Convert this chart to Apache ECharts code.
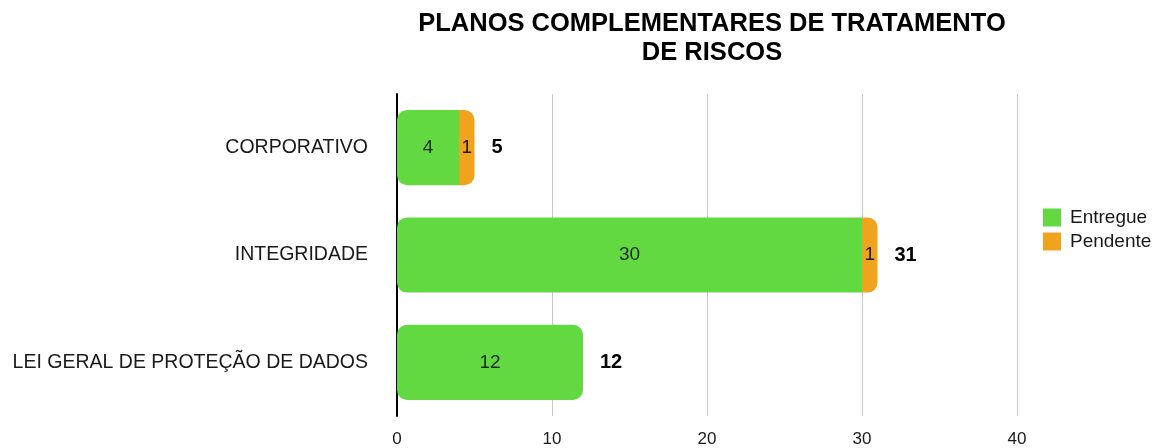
<!DOCTYPE html>
<html>
<head>
<meta charset="utf-8">
<script src="https://cdn.jsdelivr.net/npm/echarts@6/dist/echarts.min.js"></script>
<style>
  html, body { margin: 0; padding: 0; background: #fff; }
  #chart { width: 1159px; height: 448px; }
</style>
</head>
<body>
<div id="chart"></div>
<script>
var categorias = ["CORPORATIVO", "INTEGRIDADE", "LEI GERAL DE PROTEÇÃO DE DADOS"];
var entregue = [4, 30, 12];
var pendente = [1, 1, 0];
var totais = [5, 31, 12];
var xTicks = [0, 10, 20, 30, 40];

var fonte = '"Liberation Sans", Arial, sans-serif';
var verde = "#62d940";
var laranja = "#f0a31c";

var chart = echarts.init(document.getElementById("chart"));

// cantos arredondados: verde só fecha à direita quando não há pendente
var dadosEntregue = entregue.map(function (v, i) {
  return {
    value: v,
    itemStyle: { borderRadius: pendente[i] > 0 ? [10, 0, 0, 10] : 10 }
  };
});
var dadosPendente = pendente.map(function (v) {
  return { value: v, itemStyle: { borderRadius: [0, 10, 10, 0] } };
});

var option = {
  backgroundColor: "#fff",
  animation: false,
  textStyle: { fontFamily: fonte },
  title: {
    text: "PLANOS COMPLEMENTARES DE TRATAMENTO\nDE RISCOS",
    left: 707,
    textAlign: "center",
    top: 4,
    textStyle: {
      fontFamily: fonte,
      fontSize: 25.5,
      fontWeight: "bold",
      color: "#000",
      lineHeight: 29
    }
  },
  legend: {
    data: ["Entregue", "Pendente"],
    orient: "vertical",
    left: 1038,
    top: 203,
    itemWidth: 18,
    itemHeight: 18,
    itemGap: 5,
    icon: "rect",
    textStyle: { fontFamily: fonte, fontSize: 19, color: "#1a1a1a", padding: [0, 0, 0, 4] }
  },
  grid: {
    left: 397,
    right: 142,
    top: 94,
    bottom: 31,
    containLabel: false
  },
  xAxis: {
    type: "value",
    min: 0,
    max: 40,
    interval: 10,
    axisLine: { show: false },
    axisTick: { show: false },
    axisLabel: {
      fontFamily: fonte,
      fontSize: 17,
      color: "#1a1a1a",
      margin: 15,
      formatter: function (v) { return xTicks.indexOf(v) >= 0 ? String(v) : ""; }
    },
    splitLine: { show: true, lineStyle: { color: "#c8c8c8", width: 1 } }
  },
  yAxis: {
    type: "category",
    data: categorias,
    inverse: true,
    axisLine: { show: true, lineStyle: { color: "#000", width: 2 } },
    axisTick: { show: false },
    axisLabel: {
      fontFamily: fonte,
      fontSize: 19.5,
      color: "#1a1a1a",
      margin: 29
    }
  },
  series: [
    {
      name: "Entregue",
      type: "bar",
      stack: "total",
      barWidth: "70%",
      color: verde,
      data: dadosEntregue,
      label: {
        show: true,
        position: "inside",
        fontFamily: fonte,
        fontSize: 19,
        color: "#1c2a16"
      }
    },
    {
      name: "Pendente",
      type: "bar",
      stack: "total",
      barWidth: "70%",
      color: laranja,
      data: dadosPendente,
      label: {
        show: true,
        position: "inside",
        fontFamily: fonte,
        fontSize: 19,
        color: "#1c1a10",
        formatter: function (p) { return p.value > 0 ? String(p.value) : ""; }
      }
    },
    {
      name: "Total",
      type: "bar",
      stack: "total",
      barWidth: "70%",
      data: totais.map(function () { return 0; }),
      itemStyle: { color: "transparent" },
      label: {
        show: true,
        position: "right",
        distance: 17,
        fontFamily: fonte,
        fontSize: 20,
        fontWeight: "bold",
        color: "#000",
        formatter: function (p) { return String(totais[p.dataIndex]); }
      }
    }
  ]
};

chart.setOption(option);
</script>
</body>
</html>
